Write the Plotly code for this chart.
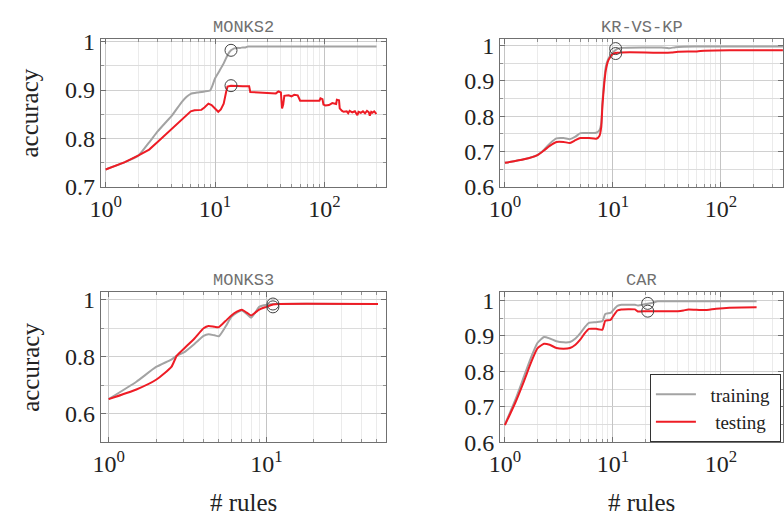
import plotly.graph_objects as go

# ---------------- data ----------------
# MONKS2
m2_train_x = [1, 1.5, 2, 2.5, 3, 3.5, 4, 4.5, 5, 5.5, 6, 7, 8, 9, 9.5, 10, 11, 12, 13, 14, 15, 16, 17, 18, 19, 20, 21, 300]
m2_train_y = [0.736, 0.751, 0.765, 0.792, 0.815, 0.832, 0.846, 0.862, 0.876, 0.886, 0.892, 0.895, 0.897, 0.899, 0.910, 0.924, 0.940, 0.955, 0.972, 0.982, 0.986, 0.987, 0.987, 0.988, 0.988, 0.990, 0.990, 0.990]
m2_test_x = [1, 1.5, 2, 2.5, 3, 3.5, 4, 4.5, 5, 5.5, 6, 6.5, 7, 7.5, 8, 8.7, 9.3, 10, 10.7, 11.3, 12, 12.6, 13, 14, 16, 18, 20.5,
             21, 25, 30, 33, 36, 38, 40, 41, 42, 43, 47, 50, 53, 57, 60, 70, 80, 90, 92, 96, 98, 102, 110, 118, 128,
             130, 136, 138, 145, 150, 160, 165, 170, 180, 190, 200, 205, 215, 225, 235, 245, 255, 260, 268, 275, 285, 295, 300]
m2_test_y = [0.736, 0.751, 0.765, 0.777, 0.793, 0.807, 0.819, 0.829, 0.838, 0.847, 0.856, 0.858, 0.858, 0.859, 0.864, 0.872, 0.869, 0.862, 0.855, 0.860, 0.872, 0.895, 0.907, 0.909, 0.908, 0.908, 0.908,
             0.896, 0.895, 0.894, 0.892, 0.893, 0.897, 0.895, 0.862, 0.870, 0.888, 0.889, 0.887, 0.890, 0.889, 0.878, 0.878, 0.878, 0.878, 0.883, 0.881, 0.870, 0.868, 0.869, 0.873, 0.871,
             0.880, 0.879, 0.862, 0.857, 0.855, 0.856, 0.852, 0.857, 0.854, 0.856, 0.848, 0.855, 0.853, 0.856, 0.852, 0.857, 0.854, 0.847, 0.855, 0.853, 0.856, 0.852, 0.853]
m2_circ_x = [14, 14]
m2_circ_y = [0.982, 0.909]

# KR-VS-KP
kr_train_x = [1, 1.5, 2, 2.3, 2.6, 3, 3.5, 4, 4.5, 5, 6, 7, 7.5, 7.8, 8, 8.3, 8.6, 9, 9.5, 10, 10.5, 11, 12, 20, 28, 33, 38, 45, 70, 375]
kr_train_y = [0.668, 0.678, 0.690, 0.705, 0.722, 0.737, 0.738, 0.735, 0.742, 0.752, 0.752, 0.753, 0.760, 0.780, 0.840, 0.900, 0.940, 0.960, 0.972, 0.980, 0.986, 0.990, 0.993, 0.994, 0.994, 0.992, 0.995, 0.996, 0.997, 0.997]
kr_test_x = [1, 1.5, 2, 2.3, 2.6, 3, 3.5, 4, 4.5, 5, 6, 7, 7.5, 7.8, 8, 8.3, 8.6, 9, 9.5, 10, 11, 12, 20, 30, 35, 40, 60, 70, 120, 375]
kr_test_y = [0.668, 0.678, 0.690, 0.703, 0.716, 0.727, 0.727, 0.724, 0.732, 0.738, 0.738, 0.736, 0.744, 0.770, 0.830, 0.890, 0.930, 0.955, 0.968, 0.976, 0.979, 0.980, 0.980, 0.979, 0.980, 0.982, 0.983, 0.985, 0.986, 0.986]
kr_circ_x = [10.6, 10.6]
kr_circ_y = [0.991, 0.977]

# MONKS3
m3_train_x = [1, 1.5, 2, 2.5, 2.7, 3, 3.5, 4, 4.3, 4.7, 5, 5.5, 6, 6.5, 7, 7.5, 8, 8.5, 9, 9.5, 10, 11, 51]
m3_train_y = [0.651, 0.712, 0.764, 0.790, 0.803, 0.815, 0.845, 0.873, 0.879, 0.875, 0.872, 0.905, 0.940, 0.955, 0.962, 0.950, 0.937, 0.955, 0.975, 0.980, 0.982, 0.985, 0.985]
m3_test_x = [1, 1.5, 2, 2.5, 2.7, 3, 3.5, 4, 4.3, 4.7, 5, 5.5, 6, 6.5, 7, 7.5, 8, 8.5, 9, 9.5, 10, 11, 12, 51]
m3_test_y = [0.651, 0.685, 0.719, 0.764, 0.803, 0.828, 0.864, 0.900, 0.908, 0.905, 0.904, 0.925, 0.945, 0.958, 0.965, 0.955, 0.945, 0.955, 0.965, 0.971, 0.975, 0.983, 0.985, 0.985]
m3_circ_x = [11, 11]
m3_circ_y = [0.985, 0.975]

# CAR
car_train_x = [1, 1.25, 1.5, 1.75, 2, 2.3, 2.6, 3, 3.5, 4, 4.5, 5, 5.5, 6, 7, 8, 8.5, 9.5, 10, 11, 12, 16, 17, 20, 23, 26, 30, 214]
car_train_y = [0.650, 0.720, 0.785, 0.840, 0.880, 0.897, 0.893, 0.885, 0.882, 0.883, 0.893, 0.908, 0.925, 0.937, 0.939, 0.942, 0.962, 0.965, 0.972, 0.985, 0.988, 0.988, 0.986, 0.990, 0.993, 0.998, 0.998, 0.998]
car_test_x = [1, 1.25, 1.5, 1.75, 2, 2.3, 2.6, 3, 3.5, 4, 4.5, 5, 5.5, 6, 7, 8, 8.5, 9.5, 10, 11, 12, 16, 17, 20, 40, 45, 50, 70, 90, 120, 214]
car_test_y = [0.648, 0.712, 0.772, 0.826, 0.865, 0.878, 0.875, 0.866, 0.864, 0.866, 0.875, 0.890, 0.908, 0.920, 0.920, 0.918, 0.943, 0.945, 0.955, 0.972, 0.975, 0.975, 0.969, 0.970, 0.970, 0.972, 0.975, 0.973, 0.977, 0.980, 0.981]
car_circ_x = [21, 21]
car_circ_y = [0.992, 0.970]

titles = ["MONKS2", "KR-VS-KP", "MONKS3", "CAR"]
series_names = ["training", "testing"]
x_ticktext = ["10<sup>0</sup>", "10<sup>1</sup>", "10<sup>2</sup>"]
x_tickvals = [1, 10, 100]

# ---------------- layout helpers ----------------
W, H = 784, 524
GREY = "#a3a3a3"
RED = "#ee1c25"
SERIF = "Liberation Serif, Times New Roman, serif"
MONO = "Liberation Mono, Courier New, monospace"

# pixel boxes: (x0, x1, ytop, ybottom)
boxes = [(91, 380, 30, 185), (496, 783, 30, 185), (91, 380, 295, 452), (496, 783, 295, 452)]
xranges = [[-0.045, 2.56], [-0.045, 2.575], [-0.05, 1.756], [-0.045, 2.575]]
yranges = [[0.7, 1.006], [0.6, 1.019], [0.5, 1.027], [0.6, 1.024]]
ymajor = [[0.7, 0.8, 0.9, 1.0], [0.6, 0.7, 0.8, 0.9, 1.0], [0.6, 0.8, 1.0], [0.6, 0.7, 0.8, 0.9, 1.0]]
yminor = [[0.75, 0.85, 0.95], [0.65, 0.75, 0.85, 0.95], [0.5, 0.7, 0.9], [0.65, 0.75, 0.85, 0.95]]
# smooth (spline) drawing for train / test per panel
smooth = [(True, False), (True, True), (True, True), (True, True)]

data = [
    (m2_train_x, m2_train_y, m2_test_x, m2_test_y, m2_circ_x, m2_circ_y),
    (kr_train_x, kr_train_y, kr_test_x, kr_test_y, kr_circ_x, kr_circ_y),
    (m3_train_x, m3_train_y, m3_test_x, m3_test_y, m3_circ_x, m3_circ_y),
    (car_train_x, car_train_y, car_test_x, car_test_y, car_circ_x, car_circ_y),
]

minor_x = [m * 10 ** e for e in range(0, 3) for m in range(2, 10)]


def line_style(color, sm):
    if sm:
        return dict(color=color, width=2, shape="spline", smoothing=0.5)
    return dict(color=color, width=2)


fig = go.Figure()
layout = dict(
    width=W, height=H, margin=dict(l=0, r=0, t=0, b=0),
    paper_bgcolor="white", plot_bgcolor="white",
    showlegend=True,
    legend=dict(x=648 / W, y=1 - 381 / H, xanchor="left", yanchor="top",
                bgcolor="white", bordercolor="#333333", borderwidth=1,
                font=dict(family=SERIF, size=19, color="#222222"),
                tracegroupgap=2, itemwidth=40),
)

annotations = []
for i, (tx, ty, sx, sy, cx, cy) in enumerate(data):
    k = i + 1
    xa = "x" if k == 1 else f"x{k}"
    ya = "y" if k == 1 else f"y{k}"
    fig.add_trace(go.Scatter(x=tx, y=ty, mode="lines", name="\u00a0\u00a0" + series_names[0] + "\u00a0",
                             line=line_style(GREY, smooth[i][0]), xaxis=xa, yaxis=ya,
                             showlegend=(k == 4), legendrank=1))
    fig.add_trace(go.Scatter(x=sx, y=sy, mode="lines", name="\u00a0\u00a0\u00a0" + series_names[1],
                             line=line_style(RED, smooth[i][1]), xaxis=xa, yaxis=ya,
                             showlegend=(k == 4), legendrank=2))
    fig.add_trace(go.Scatter(x=cx, y=cy, mode="markers", showlegend=False,
                             marker=dict(symbol="circle-open", size=12, color="#444444",
                                         line=dict(width=1)), xaxis=xa, yaxis=ya))
    x0, x1, yt, yb = boxes[i]
    xname = "xaxis" if k == 1 else f"xaxis{k}"
    yname = "yaxis" if k == 1 else f"yaxis{k}"
    layout[xname] = dict(
        type="log", range=xranges[i], domain=[x0 / W, x1 / W], anchor=ya,
        showline=True, mirror="ticks", linecolor="#707070", linewidth=1,
        showgrid=True, gridcolor="#c4c4c4", gridwidth=1, zeroline=False,
        tickmode="array", tickvals=x_tickvals, ticktext=x_ticktext,
        ticks="inside", ticklen=5, tickcolor="#707070",
        tickfont=dict(family=SERIF, size=24, color="#222222"),
        minor=dict(tickmode="array", tickvals=minor_x, showgrid=True, gridcolor="#ebebeb",
                   ticks="inside", ticklen=3, tickcolor="#909090"),
        fixedrange=True,
    )
    layout[yname] = dict(
        range=yranges[i], domain=[1 - yb / H, 1 - yt / H], anchor=xa,
        showline=True, mirror="ticks", linecolor="#707070", linewidth=1,
        showgrid=True, gridcolor="#d0d0d0", gridwidth=1, zeroline=False,
        tickmode="array", tickvals=ymajor[i], ticktext=[("1" if v == 1.0 else f"{v:.1f}") for v in ymajor[i]],
        ticks="inside", ticklen=5, tickcolor="#707070",
        tickfont=dict(family=SERIF, size=24, color="#222222"),
        minor=dict(tickmode="array", tickvals=yminor[i], showgrid=True, gridcolor="#dcdcdc",
                   ticks="inside", ticklen=3, tickcolor="#909090"),
        fixedrange=True,
    )
    # panel title
    annotations.append(dict(text=titles[i], x=(x0 + x1) / 2 / W, y=1 - (yt - 12) / H,
                            xref="paper", yref="paper", xanchor="center", yanchor="middle",
                            showarrow=False, font=dict(family=MONO, size=17, color="#707070")))
    if i in (0, 2):
        annotations.append(dict(text="accuracy", x=19 / W, y=1 - (yt + yb) / 2 / H,
                                xref="paper", yref="paper", xanchor="center", yanchor="middle",
                                textangle=-90, showarrow=False,
                                font=dict(family=SERIF, size=25, color="#222222")))
    if i in (2, 3):
        annotations.append(dict(text="# rules", x=(x0 + x1) / 2 / W, y=1 - 515 / H,
                                xref="paper", yref="paper", xanchor="center", yanchor="middle",
                                showarrow=False,
                                font=dict(family=SERIF, size=25, color="#222222")))

layout["annotations"] = annotations
fig.update_layout(**layout)
fig.write_html("out.html")
